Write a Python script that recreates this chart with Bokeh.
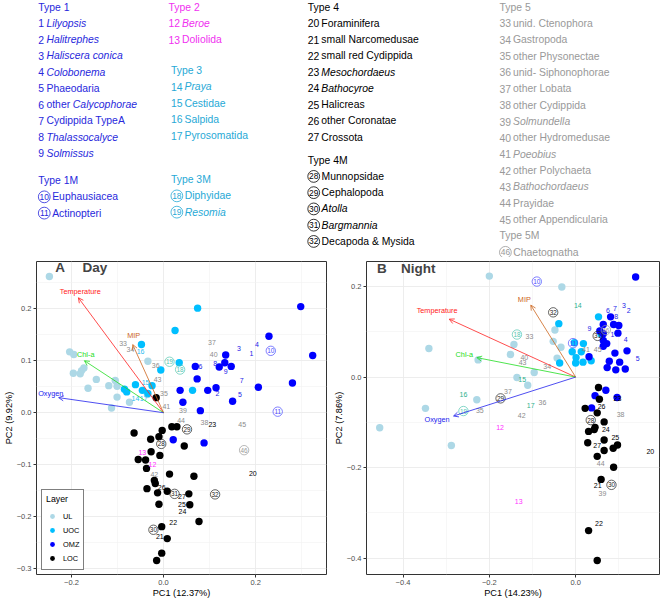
from bokeh.plotting import figure
from bokeh.models import (Range1d, FixedTicker, CustomJSTickFormatter, Arrow,
                          OpenHead, ColumnDataSource, Label)
from bokeh.layouts import column, row
from bokeh.embed import file_html
from bokeh.resources import INLINE
from bokeh.core.properties import value

FONT = "Liberation Sans"

# ---------------- taxa legend (categories) ----------------
type_headers = ["Type 1", "Type 1M", "Type 2", "Type 3", "Type 3M",
                "Type 4", "Type 4M", "Type 5", "Type 5M"]
type_members = [list(range(1, 10)), [10, 11], [12, 13], [14, 15, 16, 17], [18, 19],
                list(range(20, 28)), list(range(28, 33)), list(range(33, 46)), [46]]
taxon_plain = ["", "", "", "", "Phaeodaria", "other", "Cydippida TypeA", "", "",
               "Euphausiacea", "Actinopteri",
               "", "Doliolida",
               "", "Cestidae", "Salpida", "Pyrosomatida",
               "Diphyidae", "",
               "Foraminifera", "small Narcomedusae", "small red Cydippida", "", "",
               "Halicreas", "other Coronatae", "Crossota",
               "Munnopsidae", "Cephalopoda", "", "", "Decapoda & Mysida",
               "unid. Ctenophora", "Gastropoda", "other Physonectae", "unid- Siphonophorae",
               "other Lobata", "other Cydippida", "", "other Hydromedusae", "",
               "other Polychaeta", "", "Prayidae", "other Appendicularia",
               "Chaetognatha"]
taxon_ital = ["Lilyopsis", "Halitrephes", "Haliscera conica", "Colobonema", "",
              "Calycophorae", "", "Thalassocalyce", "Solmissus",
              "", "",
              "Beroe", "",
              "Praya", "", "", "",
              "", "Resomia",
              "", "", "", "Mesochordaeus", "Bathocyroe", "", "", "",
              "", "", "Atolla", "Bargmannia", "",
              "", "", "", "", "", "", "Solmundella", "", "Poeobius",
              "", "Bathochordaeus", "", "",
              ""]

# ---------------- environmental vectors ----------------
env_names = ["Temperature", "MIP", "Chl-a", "Oxygen"]
day_env_x = [-0.185, -0.067, -0.172, -0.228]
day_env_y = [0.221, 0.131, 0.100, 0.029]
day_envlab_x = [-0.181, -0.065, -0.169, -0.245]
day_envlab_y = [0.233, 0.148, 0.111, 0.037]
night_env_x = [-0.293, -0.104, -0.229, -0.283]
night_env_y = [0.128, 0.159, 0.043, -0.086]
night_envlab_x = [-0.321, -0.119, -0.258, -0.321]
night_envlab_y = [0.147, 0.172, 0.049, -0.094]

# ---------------- sample scores, Day ----------------
layers = ["UL", "UOC", "OMZ", "LOC"]
day_ul_x = [-0.248, -0.204, -0.195, -0.173, -0.178, -0.196, -0.181, -0.146, -0.164, -0.119,
            -0.105, -0.101, -0.101, -0.113, -0.074, -0.034, -0.035]
day_ul_y = [0.262, 0.117, 0.112, 0.086, 0.081, 0.076, 0.075, 0.064, 0.047, 0.052,
            0.062, 0.051, 0.030, 0.009, 0.020, 0.099, 0.035]
day_uoc_x = [0.074, 0.025, -0.048, -0.006, 0.034, 0.063, -0.061, -0.085, -0.080, -0.046, -0.025, -0.034]
day_uoc_y = [0.201, 0.158, 0.131, 0.082, 0.096, 0.043, 0.054, 0.045, 0.040, 0.043, 0.052, 0.037]
day_omz_x = [0.229, 0.324, 0.135, 0.133, 0.121, 0.147, 0.069, 0.073, 0.036, 0.096,
             0.114, 0.042, 0.080, 0.150, 0.206, 0.280, 0.298, 0.021, 0.088]
day_omz_y = [0.147, 0.110, 0.111, 0.096, 0.088, 0.089, 0.089, 0.065, 0.043, 0.043,
             0.048, 0.020, 0.004, 0.022, 0.049, 0.057, 0.204, -0.052, -0.058]
day_loc_x = [-0.016, -0.064, -0.003, 0.018, 0.029, -0.028, -0.010, 0.045, -0.027, -0.008,
             -0.055, -0.039, -0.037, 0.013, 0.066, -0.020, -0.018, -0.036, -0.013, 0.008,
             0.055, -0.010, 0.057, 0.077, -0.004, 0.008, -0.004, -0.015]
day_loc_y = [0.029, -0.039, -0.034, -0.027, -0.027, -0.051, -0.046, -0.064, -0.075, -0.082,
             -0.090, -0.091, -0.107, -0.118, -0.122, -0.130, -0.136, -0.146, -0.154, -0.151,
             -0.156, -0.176, -0.177, -0.209, -0.219, -0.242, -0.270, -0.284]

# taxa scores (label positions), taxa 1..46
day_lab_x = [0.191, 0.117, 0.164, 0.203, 0.166, 0.080, 0.170, 0.112, 0.135,
             0.233, 0.248,
             -0.024, -0.046,
             -0.061, -0.039, -0.050, -0.043,
             0.036, 0.013,
             0.194, -0.008, 0.021, 0.106, 0.041, 0.040, -0.004, 0.040,
             -0.005, 0.051, -0.022, 0.024, 0.112,
             -0.088, -0.072, 0.001, -0.017, 0.105, 0.089, 0.042, 0.109, 0.006, -0.020,
             -0.013, 0.038, 0.171,
             0.175]
day_lab_y = [0.114, 0.036, 0.123, 0.131, 0.035, 0.088, 0.062, 0.094, 0.080,
             0.119, 0.002,
             -0.099, -0.076,
             0.028, 0.059, 0.117, 0.028,
             0.083, 0.098,
             -0.117, -0.238, -0.211, -0.022, -0.190, -0.176, -0.143, -0.162,
             -0.060, -0.032, -0.225, -0.156, -0.157,
             0.134, 0.122, 0.037, 0.091, 0.135, -0.019, 0.005, 0.111, 0.011, -0.119,
             0.063, -0.015, -0.022,
             -0.072]

# ---------------- sample scores, Night ----------------
night_ul_x = [-0.200, -0.032, -0.340, -0.143, -0.151, -0.226, -0.096, -0.136, -0.111, -0.229,
              -0.348, -0.454, -0.288, -0.048, -0.052, -0.034, -0.043]
night_ul_y = [0.223, 0.199, 0.063, 0.072, 0.050, 0.038, 0.010, -0.001, -0.018, -0.050,
              -0.069, -0.112, -0.151, 0.104, 0.079, 0.066, 0.042]
night_uoc_x = [-0.039, 0.053, -0.003, 0.018, -0.008, 0.013, 0.001, 0.000, 0.017, 0.036, -0.037, 0.059]
night_uoc_y = [0.118, 0.133, 0.076, 0.074, 0.056, 0.056, 0.043, 0.031, 0.033, 0.036, 0.031, 0.095]
night_omz_x = [0.139, 0.081, 0.064, 0.088, 0.100, 0.098, 0.064, 0.056, 0.064, 0.072,
               0.064, 0.119, 0.091, 0.031, 0.078, 0.102, 0.073, 0.093, 0.115, 0.045,
               0.070, 0.096, 0.037]
night_omz_y = [0.221, 0.133, 0.116, 0.116, 0.114, 0.097, 0.096, 0.102, 0.081, 0.074,
               0.068, 0.058, 0.053, 0.045, 0.035, 0.033, 0.021, 0.016, 0.018, -0.041,
               -0.029, -0.045, -0.068]
night_loc_x = [0.053, 0.055, 0.022, 0.050, 0.066, 0.045, 0.043, 0.030, 0.066, 0.028,
               0.066, 0.087, 0.097, 0.050, 0.088, 0.059, 0.030, 0.050]
night_loc_y = [-0.023, -0.049, -0.069, -0.079, -0.099, -0.111, -0.116, -0.120, -0.139, -0.145,
               -0.162, -0.157, -0.150, -0.175, -0.199, -0.226, -0.339, -0.405]

night_lab_x = [0.085, 0.123, 0.112, 0.116, 0.144, 0.075, 0.091, 0.094, 0.032,
               -0.090, -0.006,
               -0.175, -0.132,
               0.005, -0.124, -0.260, -0.104,
               -0.136, -0.260,
               0.173, 0.051, 0.054, 0.097, 0.070, 0.092, 0.060, 0.050,
               0.035, -0.174, 0.083, 0.051, -0.052,
               -0.107, -0.066, -0.222, -0.077, -0.157, 0.104, 0.062, -0.119, 0.024, -0.125,
               -0.123, 0.058, 0.051,
               0.070]
night_lab_y = [0.095, 0.147, 0.159, 0.084, 0.040, 0.146, 0.152, 0.134, 0.107,
               0.211, 0.075,
               -0.111, -0.274,
               0.159, -0.006, -0.038, -0.063,
               0.094, -0.075,
               -0.164, -0.240, -0.323, -0.048, -0.116, -0.134, -0.065, -0.152,
               -0.095, -0.047, -0.238, 0.091, 0.143,
               0.089, 0.023, -0.074, -0.057, -0.031, -0.082, -0.256, 0.044, 0.060, -0.084,
               0.033, -0.190, 0.060,
               0.104]

# ---------------- styling ----------------
layer_colors = ["#add8e6", "#00bfff", "#0000ff", "#000000"]
env_colors = ["#ff2020", "#cd661d", "#22dd22", "#2222ee"]
circled_types = {1, 4, 6, 8}
legend_type_colors = ["#2828dc", "#2828dc", "#f030f0", "#27a9d6", "#27a9d6",
                      "#000000", "#000000", "#999999", "#999999"]
day_type_colors = ["#2323e8", "#4a4aff", "#ff30ff", "#2cbdf0", "#52c6b0",
                   "#000000", "#222222", "#8c8c8c", "#9a9a9a"]
night_type_colors = ["#2323e8", "#4a4aff", "#ff30ff", "#2eb28e", "#52c6b0",
                     "#000000", "#222222", "#8c8c8c", "#9a9a9a"]

taxon_type = {}
for t, mem in enumerate(type_members):
    for n in mem:
        taxon_type[n] = t

# ---------------- top legend figure (reference pixel coordinates) ----------------
LW, LH = 662, 257
leg = figure(width=LW, height=LH, x_range=Range1d(0, 670), y_range=Range1d(264, 0),
             x_axis_type=None, y_axis_type=None, output_backend="svg",
             toolbar_location=None, min_border=0)
leg.outline_line_color = None
SX = LW / 670.0
LFS = 10.4  # px

# block layout: (type index, x, header y, pitch)
blocks = [(0, 38.3, 6.7, 16.7), (1, 38.3, 185.0, 16.7),
          (2, 170.0, 6.7, 16.7), (3, 172.5, 72.0, 16.7), (4, 172.5, 184.0, 16.7),
          (5, 311.0, 6.7, 16.7), (6, 311.0, 164.0, 16.7),
          (7, 505.0, 6.7, 16.8), (8, 505.0, 241.9, 16.8)]

CW = {"o": .556, "t": .278, "h": .556, "e": .556, "r": .333, " ": .26}


def tw(s):
    w = 0.0
    for c in s:
        w += 0.52 if c.isdigit() else CW.get(c, 0.52)
    return w * LFS / SX


reg = dict(x=[], y=[], text=[], color=[])
ital = dict(x=[], y=[], text=[], color=[])
circ = dict(x=[], y=[], text=[], color=[])
for t, x0, y0, pitch in blocks:
    col = legend_type_colors[t]
    reg["x"].append(x0); reg["y"].append(y0); reg["text"].append(type_headers[t]); reg["color"].append(col)
    for k, n in enumerate(type_members[t]):
        y = y0 + (k + 1) * pitch
        plain, it = taxon_plain[n - 1], taxon_ital[n - 1]
        if t in circled_types:
            circ["x"].append(x0 + 6); circ["y"].append(y); circ["text"].append(str(n)); circ["color"].append(col)
            cur = x0 + 14
        else:
            reg["x"].append(x0); reg["y"].append(y); reg["text"].append(str(n)); reg["color"].append(col)
            cur = x0 + tw(str(n) + " ")
        if plain:
            reg["x"].append(cur); reg["y"].append(y); reg["text"].append(plain); reg["color"].append(col)
            cur += tw(plain + " ")
        if it:
            ital["x"].append(cur); ital["y"].append(y); ital["text"].append(it); ital["color"].append(col)

leg.text("x", "y", text="text", text_color="color", source=ColumnDataSource(reg),
         text_font=value(FONT), text_font_size=f"{LFS}px", text_baseline="middle", text_align="left")
leg.text("x", "y", text="text", text_color="color", source=ColumnDataSource(ital),
         text_font=value(FONT), text_font_size=f"{LFS}px", text_font_style="italic",
         text_baseline="middle", text_align="left")
csrc = ColumnDataSource(circ)
leg.scatter("x", "y", source=csrc, marker="circle", size=11.8, fill_color=None,
            line_color="color", line_width=0.8)
leg.text("x", "y", text="text", text_color="color", source=csrc, text_font=value(FONT),
         text_font_size="8.4px", text_baseline="middle", text_align="center")

# ---------------- PCA panels ----------------
tick_fmt = CustomJSTickFormatter(
    code="return (tick < -1e-9 ? '\u2212' : '') + Math.abs(tick).toFixed(1);")

PH = 343


def panel(width, xr, yr, xticks, xminor, yticks, yminor, bleft, pts, lab_x, lab_y,
          type_cols, ex, ey, elx, ely, xlabel, ylabel, tag, title, tag_x, title_x, tag_y,
          with_legend):
    p = figure(width=width, height=PH, x_range=Range1d(*xr), y_range=Range1d(*yr),
               output_backend="svg", toolbar_location=None,
               min_border_left=bleft, min_border_right=3, min_border_top=4,
               min_border_bottom=23)
    p.outline_line_color = "#333333"
    p.outline_line_width = 1
    xt = FixedTicker(ticks=xticks, minor_ticks=xminor)
    yt = FixedTicker(ticks=yticks, minor_ticks=yminor)
    p.xaxis.ticker = xt
    p.yaxis.ticker = yt
    p.xgrid.ticker = xt
    p.ygrid.ticker = yt
    for g in (p.xgrid, p.ygrid):
        g.grid_line_color = "#ebebeb"
        g.grid_line_width = 0.9
        g.minor_grid_line_color = "#f2f2f2"
        g.minor_grid_line_width = 0.6
    for ax in (p.xaxis, p.yaxis):
        ax.formatter = tick_fmt
        ax.axis_line_color = None
        ax.major_tick_line_color = "#333333"
        ax.major_tick_out = 3
        ax.major_tick_in = 0
        ax.minor_tick_line_color = None
        ax.major_label_text_font = FONT
        ax.major_label_text_font_size = "7.5px"
        ax.major_label_text_color = "#4d4d4d"
        ax.major_label_standoff = 1
        ax.axis_label_text_font = FONT
        ax.axis_label_text_font_size = "9.2px"
        ax.axis_label_text_font_style = "normal"
        ax.axis_label_text_color = "#000000"
        ax.axis_label_standoff = 0
    p.xaxis.axis_label = xlabel
    p.yaxis.axis_label = ylabel

    for name, (xs, ys), c in zip(layers, pts, layer_colors):
        kw = dict(legend_label=name) if with_legend else {}
        p.scatter(xs, ys, size=7.4, fill_color=c, line_color=None, **kw)

    plain = dict(x=[], y=[], text=[], color=[])
    circled = dict(x=[], y=[], text=[], color=[])
    for i, (lx, ly) in enumerate(zip(lab_x, lab_y)):
        n = i + 1
        t = taxon_type[n]
        d = circled if t in circled_types else plain
        d["x"].append(lx); d["y"].append(ly); d["text"].append(str(n)); d["color"].append(type_cols[t])
    p.text("x", "y", text="text", text_color="color", source=ColumnDataSource(plain),
           text_font=value(FONT), text_font_size="7px", text_align="center", text_baseline="middle")
    cs = ColumnDataSource(circled)
    p.scatter("x", "y", source=cs, marker="circle", size=9.4, fill_color=None,
              line_color="color", line_width=0.7)
    p.text("x", "y", text="text", text_color="color", source=cs,
           text_font=value(FONT), text_font_size="6.4px", text_align="center", text_baseline="middle")

    for i in range(len(env_names)):
        c = env_colors[i]
        src = ColumnDataSource(dict(x0=[0.0], y0=[0.0], x1=[ex[i]], y1=[ey[i]]))
        p.add_layout(Arrow(x_start="x0", y_start="y0", x_end="x1", y_end="y1", source=src,
                           line_color=c, line_width=0.8,
                           end=OpenHead(size=5, line_color=c, line_width=0.8)))
    p.text(elx, ely, text=env_names, text_color=env_colors, text_font=value(FONT),
           text_font_size="7.3px", text_align="center", text_baseline="middle")

    p.add_layout(Label(x=tag_x, y=tag_y, x_units="screen", y_units="screen", text=tag,
                       text_font=FONT, text_font_size="13.5px", text_font_style="bold",
                       text_baseline="middle", text_align="left"))
    p.add_layout(Label(x=title_x, y=tag_y, x_units="screen", y_units="screen", text=title,
                       text_font=FONT, text_font_size="13.5px", text_font_style="bold",
                       text_baseline="middle", text_align="left"))

    if with_legend:
        lg = p.legend[0]
        lg.title = "Layer"
        lg.title_text_font = FONT
        lg.title_text_font_size = "8.8px"
        lg.title_text_font_style = "normal"
        lg.title_text_color = "#000000"
        lg.title_standoff = 5
        lg.label_text_font = FONT
        lg.label_text_font_size = "7.4px"
        lg.label_text_color = "#000000"
        lg.glyph_width = 12
        lg.glyph_height = 14
        lg.label_height = 14
        lg.label_width = 14
        lg.label_standoff = 5
        lg.spacing = 0
        lg.padding = 4
        lg.margin = 0
        lg.border_line_color = "#000000"
        lg.border_line_width = 0.9
        lg.background_fill_alpha = 1.0
        lg.location = (5, 4)
    return p


pA = panel(329, (-0.276, 0.354), (-0.311, 0.2907),
           [-0.2, 0.0, 0.2], [-0.3, -0.1, 0.1, 0.3],
           [-0.3, -0.2, -0.1, 0.0, 0.1, 0.2], [-0.35, -0.25, -0.15, -0.05, 0.05, 0.15, 0.25],
           31,
           [(day_ul_x, day_ul_y), (day_uoc_x, day_uoc_y), (day_omz_x, day_omz_y), (day_loc_x, day_loc_y)],
           day_lab_x, day_lab_y, day_type_colors,
           day_env_x, day_env_y, day_envlab_x, day_envlab_y,
           "PC1 (12.37%)", "PC2 (9.92%)", "A", "Day", 18.8, 46.1, 307, True)

pB = panel(333, (-0.4846, 0.1943), (-0.436, 0.2553),
           [-0.4, -0.2, 0.0], [-0.5, -0.3, -0.1, 0.1],
           [-0.4, -0.2, 0.0, 0.2], [-0.5, -0.3, -0.1, 0.1, 0.3],
           37,
           [(night_ul_x, night_ul_y), (night_uoc_x, night_uoc_y), (night_omz_x, night_omz_y),
            (night_loc_x, night_loc_y)],
           night_lab_x, night_lab_y, night_type_colors,
           night_env_x, night_env_y, night_envlab_x, night_envlab_y,
           "PC1 (14.23%)", "PC2 (7.86%)", "B", "Night", 10.6, 34.6, 306, False)

layout = column(leg, row(pA, pB))
open("out.html", "w").write(file_html(layout, INLINE))
